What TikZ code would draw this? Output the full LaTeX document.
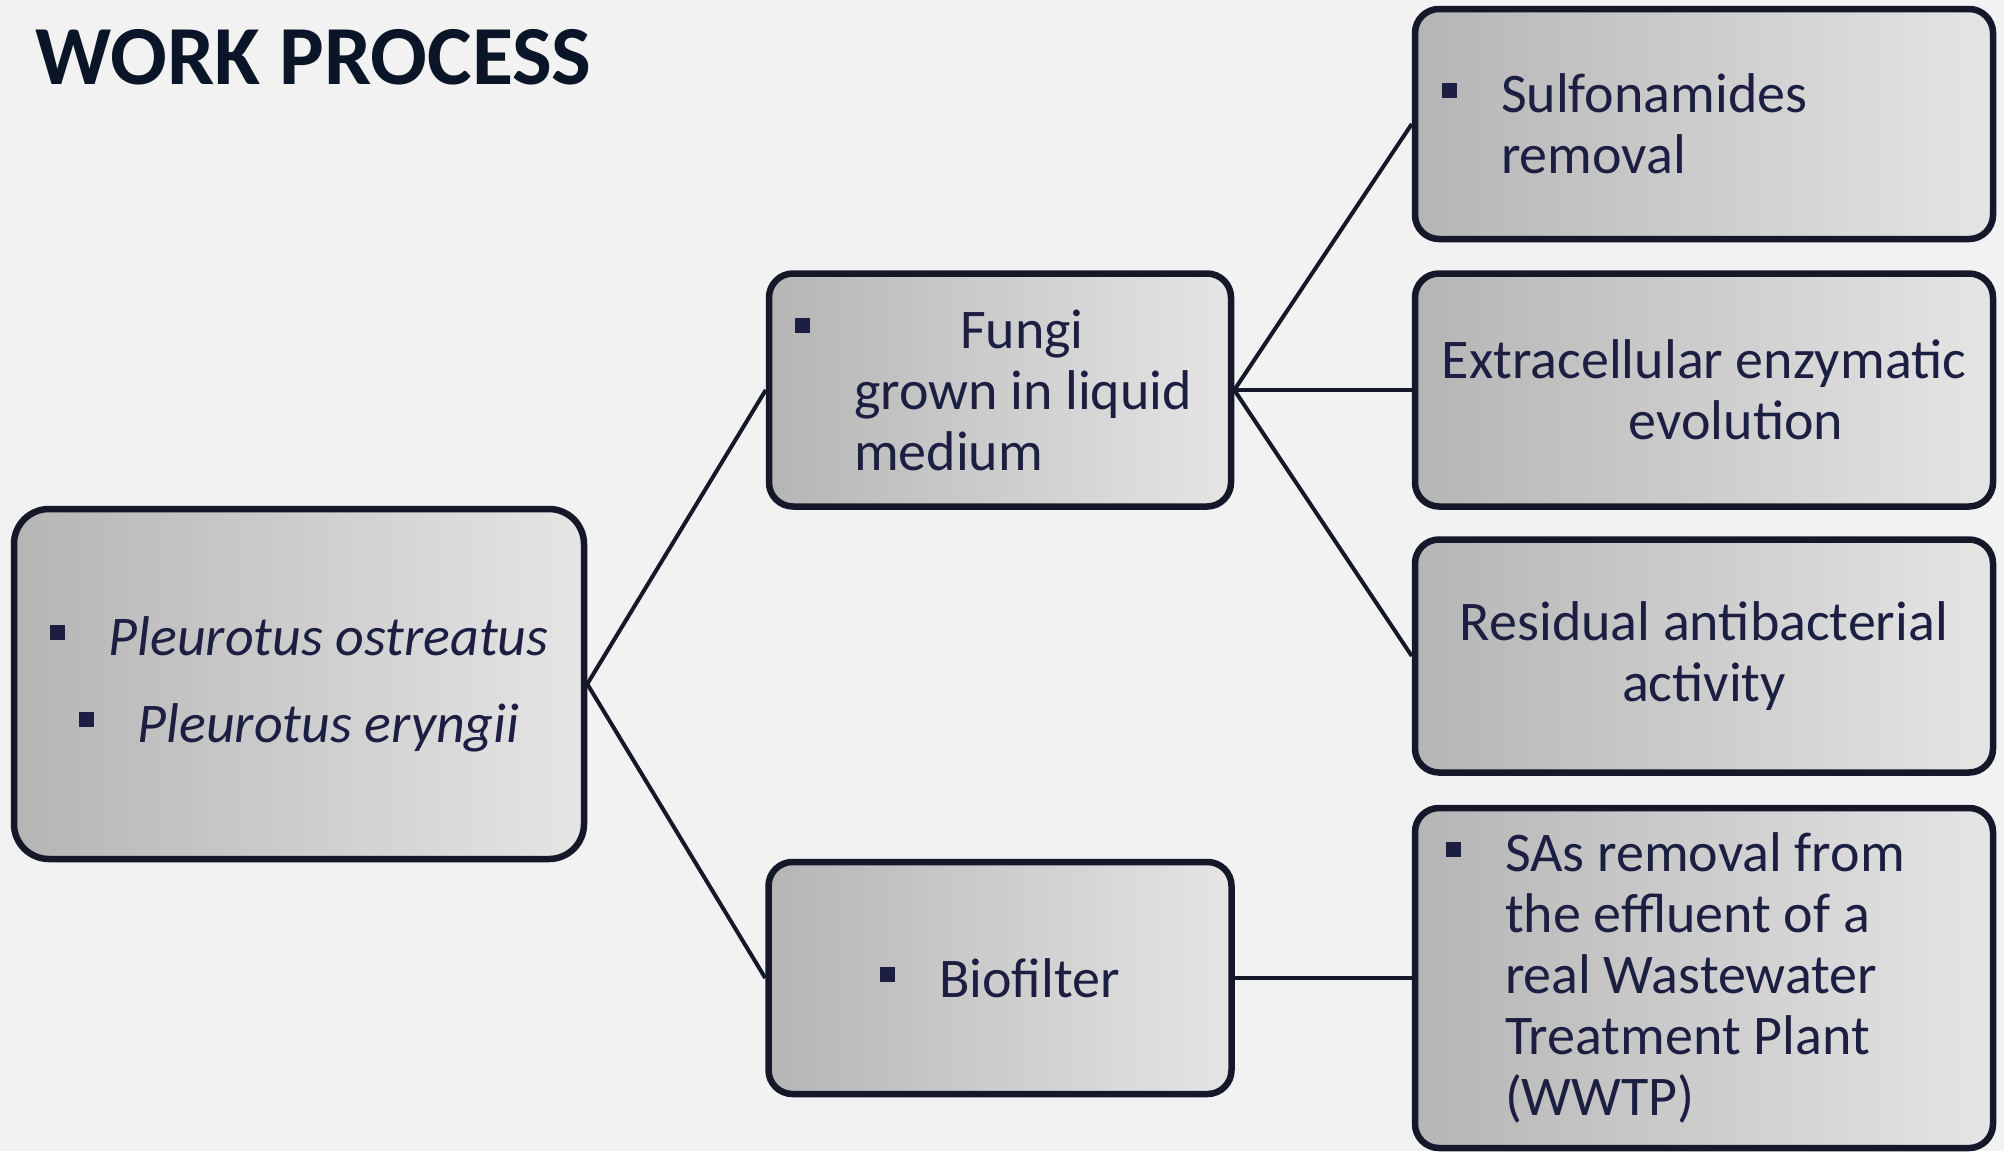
\documentclass[tikz,border=0pt]{standalone}
\usepackage{fontspec}
\setmainfont{Carlito}
\usetikzlibrary{positioning}
\definecolor{navy}{HTML}{151829}
\definecolor{inkblue}{HTML}{1C1E42}
\definecolor{titleblue}{HTML}{0B1528}
\definecolor{greyL}{HTML}{B5B5B5}
\definecolor{greyR}{HTML}{E5E5E5}
\definecolor{paper}{HTML}{F2F2F2}
\tikzstyle{box}=[draw=navy,line width=6.5pt,rounded corners=24pt,left color=greyL,right color=greyR,text=inkblue,font=\fontsize{56}{61}\selectfont,inner sep=0pt]
\newcommand{\sq}{\makebox[59pt][l]{\raisebox{15pt}{\rule{15pt}{15pt}}}}
\newcommand{\ind}{\hspace*{59pt}}

\begin{document}
\begin{tikzpicture}[x=1pt,y=-1pt,grow'=right,level distance=701pt,
  level 1/.style={sibling distance=588pt},
  level 2/.style={sibling distance=266pt,level distance=704pt},
  edge from parent/.style={draw=navy,line width=4pt},
  parent anchor=east,child anchor=west]
\fill[paper] (0,0) rectangle (2004,1151);
\useasboundingbox (0,0) rectangle (2004,1151);
\node[anchor=base west,text=titleblue,font=\fontsize{84}{90}\selectfont\bfseries] (title) at (32,84) {WORK PROCESS};
\node[box,rounded corners=35pt,minimum width=570pt,minimum height=350pt,align=flush center] (species) at (299,684)
    {\sq\textit{Pleurotus ostreatus}\\[26pt]\sq\textit{Pleurotus eryngii}}
  child {node[box,minimum height=233pt,text width=410pt,inner xsep=26pt,align=flush left] (fungi)
      {\mbox{\sq\hspace*{106pt}Fungi}\\\mbox{\ind grown in liquid}\\\mbox{\ind medium}}
    child {node[box,minimum height=230pt,text width=524pt,inner xsep=27pt,align=flush left] (sulfa)
        {\sq Sulfonamides\\\ind removal}}
    child {node[box,minimum height=233pt,minimum width=578pt,align=flush center] (enzyme)
        {Extracellular enzymatic\\\hspace*{64pt}evolution}}
    child {node[box,minimum height=233pt,minimum width=578pt,align=flush center] (residual)
        {Residual antibacterial\\activity}}
  }
  child {node[box,minimum height=232pt,minimum width=463pt,align=flush center] (biofilter)
      {\sq Biofilter}
    child {node[box,minimum height=340pt,text width=516pt,inner xsep=31pt,align=flush left] (wwtp)
        {\sq SAs removal from\\\ind the effluent of a\\\ind real Wastewater\\\ind Treatment Plant\\\ind (WWTP)}}
  };
\end{tikzpicture}
\end{document}
